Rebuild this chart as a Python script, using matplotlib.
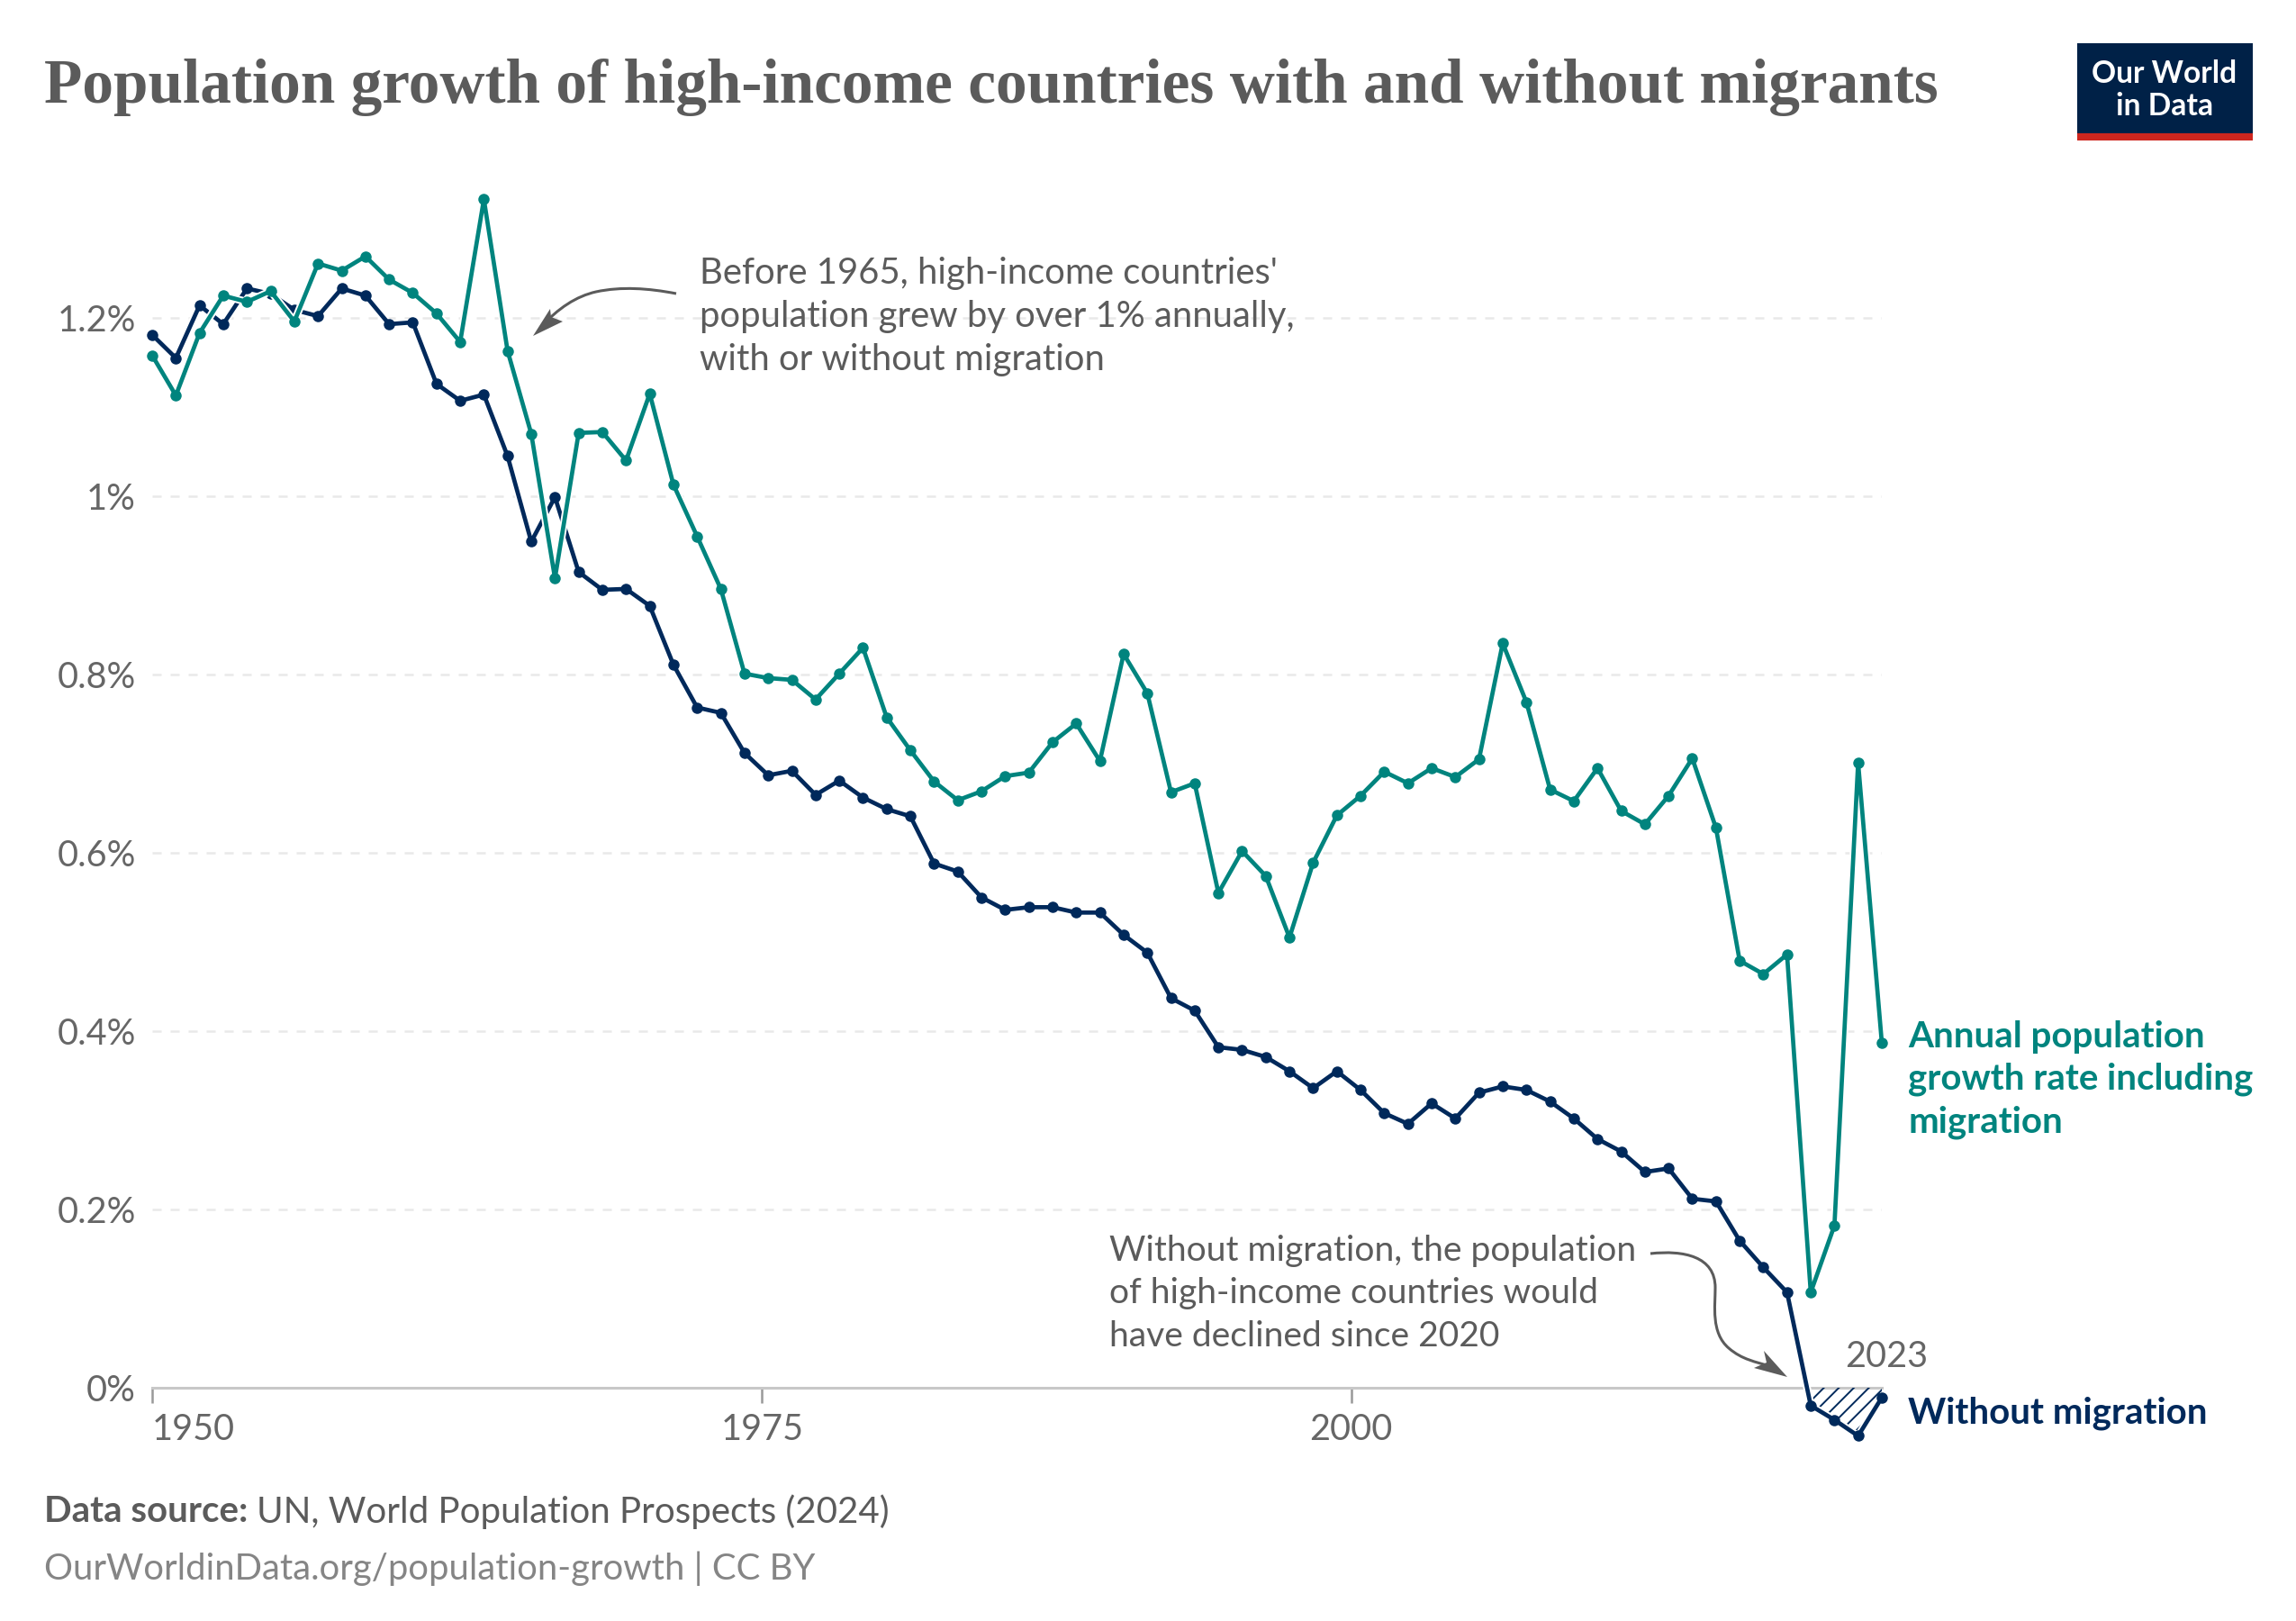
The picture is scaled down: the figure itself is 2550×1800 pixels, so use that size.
import matplotlib
matplotlib.use("Agg")
import matplotlib.pyplot as plt
import matplotlib.patheffects as pe
from matplotlib.patches import PathPatch, Polygon, Rectangle
from matplotlib.path import Path

years = list(range(1950, 2024))

# annual growth in %
with_migration = [
    1.158, 1.113, 1.183, 1.225, 1.218, 1.230, 1.196, 1.261, 1.253, 1.269,
    1.243, 1.228, 1.205, 1.173, 1.333, 1.163, 1.070, 0.908, 1.071, 1.072,
    1.040, 1.115, 1.013, 0.955, 0.896, 0.801, 0.796, 0.794, 0.772, 0.801,
    0.830, 0.752, 0.715, 0.680, 0.659, 0.669, 0.686, 0.690, 0.724, 0.745,
    0.703, 0.823, 0.779, 0.668, 0.678, 0.555, 0.602, 0.574, 0.505, 0.589,
    0.642, 0.664, 0.691, 0.678, 0.695, 0.685, 0.705, 0.835, 0.769, 0.671,
    0.658, 0.695, 0.647, 0.632, 0.664, 0.706, 0.628, 0.479, 0.464, 0.486,
    0.107, 0.182, 0.701, 0.387,
]
without_migration = [
    1.181, 1.155, 1.214, 1.193, 1.233, 1.227, 1.209, 1.202, 1.233, 1.225,
    1.193, 1.195, 1.126, 1.107, 1.114, 1.045, 0.949, 0.999, 0.915, 0.895,
    0.896, 0.877, 0.811, 0.763, 0.757, 0.712, 0.687, 0.692, 0.665, 0.681,
    0.662, 0.649, 0.641, 0.588, 0.579, 0.550, 0.536, 0.539, 0.539, 0.533,
    0.533, 0.508, 0.488, 0.437, 0.423, 0.382, 0.379, 0.371, 0.355, 0.336,
    0.355, 0.334, 0.308, 0.296, 0.319, 0.302, 0.331, 0.338, 0.334, 0.321,
    0.302, 0.279, 0.265, 0.242, 0.246, 0.212, 0.209, 0.165, 0.135, 0.107,
    -0.020, -0.036, -0.054, -0.011,
]

y_ticks = [0, 0.2, 0.4, 0.6, 0.8, 1.0, 1.2]
y_labels = ["0%", "0.2%", "0.4%", "0.6%", "0.8%", "1%", "1.2%"]
# the 1975 and 2000 ticks sit a little right of their data points in the original
x_ticks = [1950, 1975.74, 2000.6]
x_labels = ["1950", "1975", "2000"]

TEAL = "#00847E"
NAVY = "#00295B"
GREY = "#5b5b5b"

W, H = 2550, 1800
plt.rcParams["font.family"] = ["Lato", "DejaVu Sans"]
plt.rcParams["hatch.linewidth"] = 1.4
fig = plt.figure(figsize=(W / 100, H / 100), dpi=100, facecolor="white")

# plot area in pixels, 0% at y=1541 and 990 px per 1%
left, right = 169, 2090
top, bottom = 1541 - 1.36 * 990, 1541 + 0.08 * 990
ax = fig.add_axes([left / W, 1 - bottom / H, (right - left) / W, (bottom - top) / H])
ax.set_xlim(1950, 2023)
ax.set_ylim(-0.08, 1.36)
ax.patch.set_visible(False)

for name in ["top", "right", "left"]:
    ax.spines[name].set_visible(False)
ax.spines["bottom"].set_position(("data", 0))
ax.spines["bottom"].set_color("#c8c8c8")
ax.spines["bottom"].set_linewidth(2.2)

ax.set_yticks(y_ticks, y_labels)
ax.set_xticks(x_ticks, x_labels)
ax.tick_params(axis="y", length=0, pad=13, labelsize=28.5, labelcolor="#666666")
ax.tick_params(axis="x", length=12, width=1.8, color="#999999", pad=8,
               labelsize=28.5, labelcolor="#666666")
ax.get_xticklabels()[0].set_ha("left")
ax.grid(axis="y", color="#e9e9e9", linewidth=1.8, dashes=(4, 4))
ax.grid(axis="x", visible=False)
ax.set_axisbelow(True)

# hatched part below zero
ax.fill_between(years[70:], without_migration[70:], 0, facecolor="none",
                edgecolor=NAVY, hatch="//", linewidth=0, zorder=3)

# line with a white edge first, the dots on top without it
halo = [pe.Stroke(linewidth=6.2, foreground="white"), pe.Normal()]
ax.plot(years, without_migration, color=NAVY, lw=3.4, clip_on=False, zorder=4, path_effects=halo)
ax.plot(years, without_migration, ls="none", color=NAVY, marker="o", ms=9, mew=0, clip_on=False, zorder=4)
ax.plot(years, with_migration, color=TEAL, lw=3.4, clip_on=False, zorder=5, path_effects=halo)
ax.plot(years, with_migration, ls="none", color=TEAL, marker="o", ms=9, mew=0, clip_on=False, zorder=5)

# overlay in pixel coordinates for the texts and decorations
ov = fig.add_axes([0, 0, 1, 1])
ov.set_xlim(0, W)
ov.set_ylim(H, 0)
ov.axis("off")

ov.text(49, 97, "Population growth of high-income countries with and without migrants",
        family=["Liberation Serif"], weight="bold", fontsize=49.9, color=GREY, va="center")

# logo
ov.add_patch(Rectangle((2307, 48), 195, 100, color="#002147", lw=0))
ov.add_patch(Rectangle((2307, 148), 195, 8, color="#CE261E", lw=0))
ov.text(2404, 82, "Our World", color="white", fontsize=24.2, weight="bold", ha="center", va="center")
ov.text(2404, 118, "in Data", color="white", fontsize=24.2, weight="bold", ha="center", va="center")

# annotations
for y, line in zip([303, 351, 399], ["Before 1965, high-income countries'",
                                     "population grew by over 1% annually,",
                                     "with or without migration"]):
    ov.text(777, y, line, fontsize=28.8, color=GREY, va="center")
for y, line in zip([1389, 1436, 1484], ["Without migration, the population",
                                        "of high-income countries would",
                                        "have declined since 2020"]):
    ov.text(1232, y, line, fontsize=28.1, color=GREY, va="center")

arrow1 = Path([(751, 326), (720, 320), (690, 318), (662, 324), (640, 329), (620, 342), (600, 364)],
              [Path.MOVETO] + [Path.CURVE4] * 6)
ov.add_patch(PathPatch(arrow1, fill=False, ec=GREY, lw=2.2))
ov.add_patch(Polygon([(592, 373), (611, 343), (612, 352), (625, 357)], color=GREY, lw=0))

arrow2 = Path([(1833, 1392), (1870, 1388), (1905, 1395), (1905, 1430),
               (1905, 1450), (1900, 1480), (1920, 1497),
               (1935, 1510), (1950, 1512), (1965, 1517)],
              [Path.MOVETO] + [Path.CURVE4] * 9)
ov.add_patch(PathPatch(arrow2, fill=False, ec=GREY, lw=2.2))
ov.add_patch(Polygon([(1985, 1529), (1959, 1500), (1962, 1513), (1948, 1519)], color=GREY, lw=0))

# series labels
for y, line in zip([1151, 1198, 1246], ["Annual population", "growth rate including", "migration"]):
    ov.text(2119, y, line, fontsize=29, color=TEAL, weight="bold", va="center")
ov.text(2119, 1569, "Without migration", fontsize=29, color=NAVY, weight="bold", va="center")
ov.text(2095, 1507, "2023", fontsize=28.5, color="#666666", ha="center", va="center")

# footer
ov.text(49, 1679, "Data source:", fontsize=29, color=GREY, weight="bold", va="center")
ov.text(285, 1679, "UN, World Population Prospects (2024)", fontsize=29, color=GREY, va="center")
ov.text(49, 1742, "OurWorldinData.org/population-growth | CC BY", fontsize=28.8, color="#858585", va="center")

fig.savefig("out.png", dpi=100)
